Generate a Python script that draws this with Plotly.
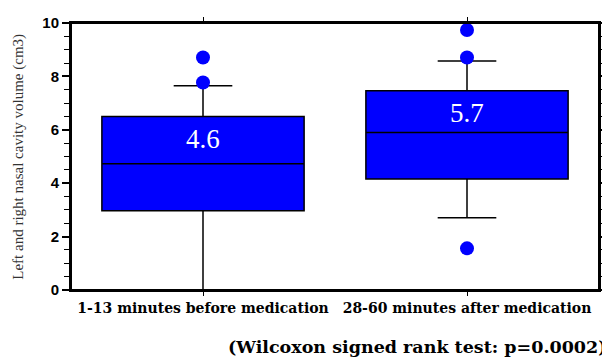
import plotly.graph_objects as go

categories = ["1-13 minutes before medication", "28-60 minutes after medication"]
q1 = [2.97, 4.16]
median = [4.73, 5.9]
q3 = [6.5, 7.46]
lower_whisker = [0.0, 2.71]
upper_whisker = [7.65, 8.58]
outlier_cat = [categories[0], categories[0], categories[1], categories[1], categories[1]]
outlier_val = [7.77, 8.71, 9.74, 8.71, 1.56]
mean_labels = ["4.6", "5.7"]
mean_label_y = [5.64, 6.62]

fig = go.Figure()
fig.add_trace(go.Box(
    x=categories, q1=q1, median=median, q3=q3,
    lowerfence=lower_whisker, upperfence=upper_whisker,
    fillcolor="#0000FF", line=dict(color="black", width=1.5),
    width=0.766, whiskerwidth=0.29, boxpoints=False, showlegend=False,
    hoverinfo="skip",
))
fig.add_trace(go.Scatter(
    x=outlier_cat, y=outlier_val, mode="markers",
    marker=dict(color="#0000FF", size=14, line=dict(width=0)),
    showlegend=False, hoverinfo="skip",
))
for c, t, yv in zip(categories, mean_labels, mean_label_y):
    fig.add_annotation(x=c, y=yv, text=t, showarrow=False,
                       font=dict(family="Liberation Serif", size=27, color="white"))

fig.add_annotation(xref="paper", yref="paper", x=1.0, xshift=9, y=-0.213, xanchor="right", yanchor="middle",
                   text="<b>(Wilcoxon signed rank test: p=0.0002)</b>", showarrow=False,
                   font=dict(family="DejaVu Serif", size=17.5, color="black"))

# y-axis title
fig.add_annotation(xref="paper", yref="paper", x=-0.1, y=0.5, xanchor="center", yanchor="middle",
                   textangle=-90, showarrow=False,
                   text="Left and right nasal cavity volume (cm3)",
                   font=dict(family="Liberation Serif", size=15, color="#333333"))

# plot frame
fig.add_shape(type="rect", xref="paper", yref="paper", x0=0, x1=1, y0=0, y1=1,
              line=dict(color="#000000", width=2), fillcolor="rgba(0,0,0,0)", layer="above")

fig.update_layout(
    width=602, height=350,
    margin=dict(l=63, r=2, t=15, b=68),
    plot_bgcolor="white", paper_bgcolor="white",
    xaxis=dict(range=[-0.5, 1.5], showline=True, linecolor="black", linewidth=2,
               mirror="allticks", ticks="outside", ticklen=4, tickcolor="black",
               tickfont=dict(family="DejaVu Serif", size=14, color="black"),
               tickprefix="<b>", ticksuffix="</b>", showgrid=False, zeroline=False),
    yaxis=dict(range=[0, 10], dtick=2, showline=True, linecolor="black", linewidth=2,
               mirror="allticks", ticks="outside", ticklen=7, tickwidth=1.5, tickcolor="black",
               minor=dict(dtick=0.5, ticks="outside", ticklen=5, tickcolor="black", tickwidth=1),
               tickfont=dict(family="Liberation Sans", size=15, color="black"),
               tickprefix="<b>", ticksuffix="</b>",
               showgrid=False, zeroline=False),
)
fig.write_html("out.html")
